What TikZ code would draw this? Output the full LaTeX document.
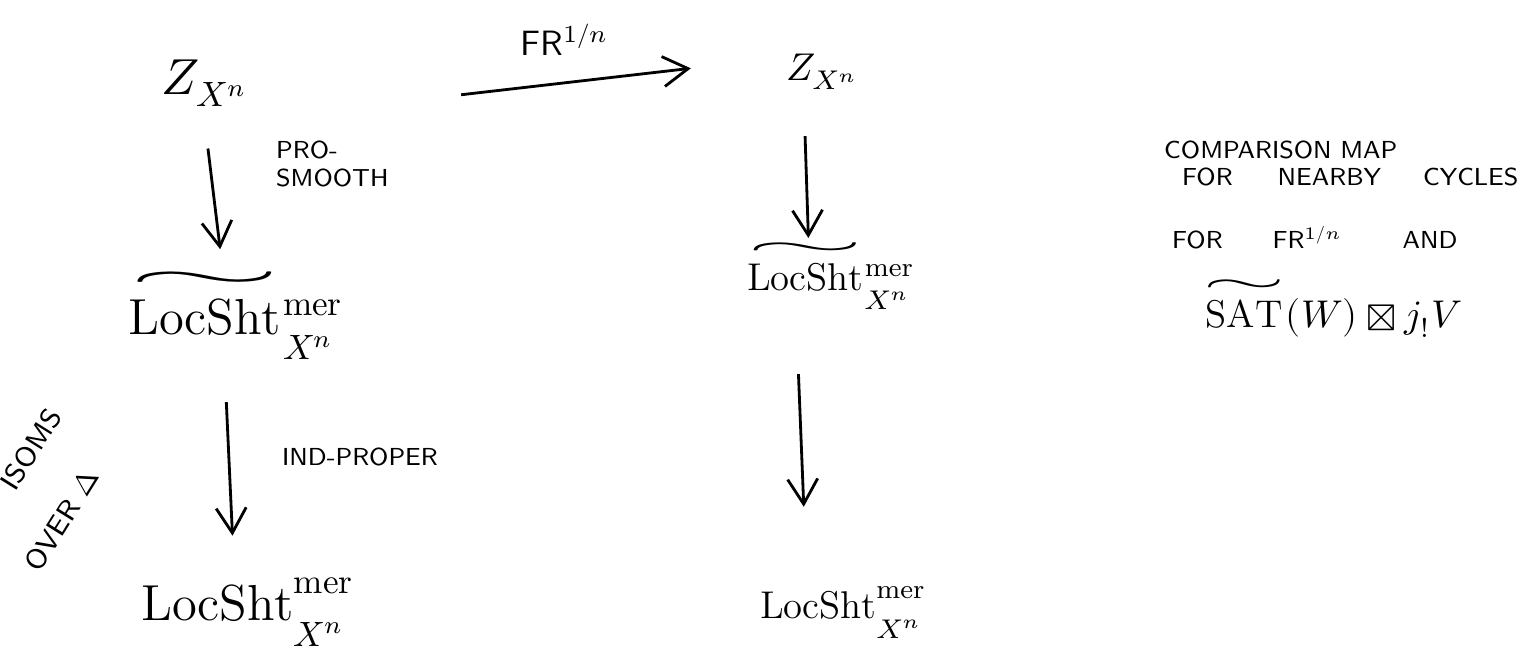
\documentclass[tikz,border=0pt]{standalone}
\usepackage{amsmath}
\usepackage{unicode-math}
\setmathfont{Latin Modern Math}
\usepackage{tikz}
\usetikzlibrary{arrows.meta}
\tikzset{
  bigobj/.style   = {inner sep=1pt, font=\Large},
  smallobj/.style = {inner sep=1pt, font=\fontsize{11}{13}\selectfont},
  maplbl/.style   = {inner sep=1pt, font=\scriptsize\sffamily, align=left},
  note/.style     = {inner sep=1pt, font=\scriptsize\sffamily, anchor=west},
  mapto/.style    = {-{Straight Barb[length=2.5mm,width=3mm]}, thick},
}
\newcommand{\LS}{\mathrm{LocSht}}
\newcommand{\Xn}{\raisebox{-0.6ex}{$\scriptstyle X^n$}}
\newcommand{\wtil}[2]{\smash[t]{\overset{\scalebox{#1}[0.9]{$\sim$}}{#2}}}

\begin{document}
\begin{tikzpicture}[x=0.01cm, y=-0.01cm]
    \useasboundingbox (0,0) rectangle (1527,667);
    % --- left column --------------------------------------------------
    \node[bigobj] (zl) at (205,83)  {$Z_{X^n}$};
    \node[bigobj] (tl) at (235,330) {$\wtil{4}{\LS}^{\mathrm{mer}}_{\Xn}$};
    \node[bigobj] (ll) at (248,612) {$\LS^{\mathrm{mer}}_{\Xn}$};
    % --- right column -------------------------------------------------
    \node[smallobj] (zr) at (823,72)  {$Z_{X^n}$};
    \node[smallobj] (tr) at (830,287) {$\wtil{4}{\LS}^{\mathrm{mer}}_{\Xn}$};
    \node[smallobj] (lr) at (843,612) {$\LS^{\mathrm{mer}}_{\Xn}$};
    % --- maps ---------------------------------------------------------
    \draw[mapto, shorten <=2.1cm, shorten >=0.92cm, transform canvas={yshift=-0.08cm}]
      (zl.south east) -- node[pos=0.59, above=4pt, font=\normalsize\sffamily] (fr) {FR$^{1/n}$} (zr.north west);
    \draw[mapto, shorten <=0.38cm, shorten >=0.47cm, transform canvas={xshift=-0.05cm}] (zl) -- (tl);
    \draw[mapto, shorten <=0.38cm, shorten >=0.38cm, transform canvas={xshift=-0.12cm}] (tl) -- (ll);
    \draw[mapto, shorten <=0.42cm, shorten >=0.22cm, transform canvas={xshift=-0.2cm}] (zr) -- (tr);
    \draw[mapto, shorten <=0.6cm, shorten >=0.75cm, transform canvas={xshift=-0.35cm}] (tr) -- (lr);
    % --- map labels ---------------------------------------------------
    \node[maplbl, anchor=north west] (pro) at (272,137) {PRO-\\SMOOTH};
    \node[maplbl, anchor=west] (ind) at (278,457) {IND-PROPER};
    \node[maplbl, font=\footnotesize\sffamily, rotate=58] (iso1) at (31,449) {ISOMS};
    \node[maplbl, font=\footnotesize\sffamily, rotate=58] (iso2) at (62,520) {OVER $\Delta$};
    % --- notes --------------------------------------------------------
    \node[note] (n1) at (1160,150) {COMPARISON MAP};
    \node[note] (n2) at (1178,177) {FOR\hspace{0.45cm}NEARBY\hspace{0.42cm}CYCLES};
    \node[note] (n3) at (1168,238) {FOR\hspace{0.5cm}FR$^{1/n}$\hspace{0.6cm}AND};
    \node[note, font=\fontsize{11}{13}\selectfont] (n4) at (1198,318) {$\wtil{2.8}{\mathrm{SAT}}(W)\boxtimes j_!V$};
\end{tikzpicture}
\end{document}
